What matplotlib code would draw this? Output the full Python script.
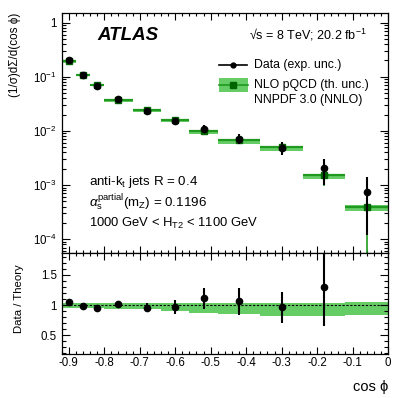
import numpy as np
import matplotlib
matplotlib.use("Agg")
import matplotlib.pyplot as plt
from matplotlib.ticker import FixedLocator, FixedFormatter, MultipleLocator, NullFormatter
from matplotlib.patches import Rectangle
from matplotlib.lines import Line2D

plt.rcParams['font.family'] = ['Liberation Sans', 'DejaVu Sans']
plt.rcParams['mathtext.fontset'] = 'custom'
plt.rcParams['mathtext.rm'] = 'Liberation Sans'
plt.rcParams['mathtext.it'] = 'Liberation Sans:italic'
plt.rcParams['axes.unicode_minus'] = False

# ---- data ----
bin_edges = [-0.92, -0.88, -0.84, -0.80, -0.72, -0.64, -0.56, -0.48, -0.36, -0.24, -0.12, 0.0]
data_vals = [0.200, 0.107, 0.068, 0.038, 0.0228, 0.0153, 0.0110, 0.0072, 0.0049, 0.00204, 0.00076]
data_rel_err = [0.02, 0.02, 0.03, 0.05, 0.075, 0.12, 0.16, 0.21, 0.27, 0.50, 0.84]
theory_vals = [0.191, 0.109, 0.0716, 0.0374, 0.0239, 0.0159, 0.0099, 0.0068, 0.0051, 0.00156, 0.00040]
theory_stat_err = [0, 0, 0, 0, 0, 0, 0, 0, 0, 0.00058, 0.00037]
band_lo = [0.945, 0.945, 0.945, 0.93, 0.93, 0.90, 0.87, 0.845, 0.82, 0.815, 0.83]
band_hi = [1.025, 1.025, 1.025, 1.025, 1.025, 1.025, 1.025, 1.025, 1.025, 1.03, 1.05]
ratio_shown = [True, True, True, True, True, True, True, True, True, True, False]
y_ticks = [1e-4, 1e-3, 1e-2, 1e-1, 1]
y_ticklabels = ['$10^{-4}$', '$10^{-3}$', '$10^{-2}$', '$10^{-1}$', '1']
x_ticks = [-0.9, -0.8, -0.7, -0.6, -0.5, -0.4, -0.3, -0.2, -0.1, 0.0]
x_ticklabels = ['-0.9', '-0.8', '-0.7', '-0.6', '-0.5', '-0.4', '-0.3', '-0.2', '-0.1', '0']
r_ticks = [0.5, 1.0, 1.5]
r_ticklabels = ['0.5', '1', '1.5']

edges = np.array(bin_edges)
lo_e = edges[:-1]
widths = np.diff(edges)
centers = lo_e + widths / 2
data = np.array(data_vals)
derr = data * np.array(data_rel_err)
th = np.array(theory_vals)
blo = np.array(band_lo)
bhi = np.array(band_hi)
ratio = data / th
rerr = derr / th
m = np.array(ratio_shown)

band_c = '#66cc66'
line_c = '#1f9a1f'
sq_c = '#006400'

W, H = 409, 398
fig = plt.figure(figsize=(W / 100, H / 100), dpi=100)
L, R = 61.7 / W, 388 / W
ax = fig.add_axes([L, 1 - 253.3 / H, R - L, (253.3 - 13) / H])
axr = fig.add_axes([L, 1 - 354.3 / H, R - L, (354.3 - 253.3) / H])

# ---- top panel ----
ax.set_yscale('log')
ax.bar(lo_e, th * (bhi - blo), bottom=th * blo, width=widths, align='edge',
       color=band_c, edgecolor='none', zorder=1)
ax.hlines(th, lo_e, edges[1:], color=line_c, lw=1.6, zorder=2)
ax.errorbar(centers, th, yerr=theory_stat_err, fmt='none', ecolor=line_c, elinewidth=1.2, zorder=2)
ax.plot(centers, th, 's', color=sq_c, ms=4.5, zorder=3)
ax.errorbar(centers, data, yerr=derr, fmt='o', color='black', ms=4.5, elinewidth=1.5,
            capsize=0, zorder=4)
ax.set_xlim(-0.92, 0)
ax.set_ylim(5.5e-5, 1.5)
ax.yaxis.set_major_locator(FixedLocator(y_ticks))
ax.yaxis.set_major_formatter(FixedFormatter(y_ticklabels))
ax.yaxis.set_minor_locator(matplotlib.ticker.LogLocator(base=10, subs=np.arange(2, 10)))
ax.yaxis.set_minor_formatter(NullFormatter())
ax.xaxis.set_major_locator(FixedLocator(x_ticks))
ax.xaxis.set_minor_locator(MultipleLocator(0.02))
ax.set_xticklabels([])
for a in (ax, axr):
    a.tick_params(which='both', direction='in', top=True, right=True, labelsize=8.3, width=0.8)
    a.tick_params(which='major', length=6)
    a.tick_params(which='minor', length=3)
    for s in a.spines.values():
        s.set_linewidth(0.9)
ax.tick_params(axis='x', which='major', length=5)
ax.tick_params(axis='x', which='minor', length=2.5)

ax.text(0.11, 0.908, 'ATLAS', transform=ax.transAxes, fontsize=13.5, fontweight='bold',
        fontstyle='italic', va='center', ha='left')
ax.text(0.933, 0.908, '\u221As = 8 TeV; 20.2 fb$^{-1}$', transform=ax.transAxes, fontsize=9,
        va='center', ha='right')

def fx(px):
    return (px - 61.7) / 326.3

def fy(py):
    return (253.3 - py) / 240.3

# legend
ax.add_line(Line2D([fx(219), fx(247)], [fy(65), fy(65)], transform=ax.transAxes, color='black', lw=1.2))
ax.add_line(Line2D([fx(233)], [fy(65)], transform=ax.transAxes, marker='o', color='black', ms=3.5))
ax.text(fx(254), fy(65), 'Data (exp. unc.)', transform=ax.transAxes, fontsize=8.8, va='center')
ax.add_patch(Rectangle((fx(219), fy(92)), fx(247.7) - fx(219), fy(78) - fy(92),
                       transform=ax.transAxes, color=band_c, ec='none'))
ax.add_line(Line2D([fx(219), fx(247.7)], [fy(85), fy(85)], transform=ax.transAxes, color=line_c, lw=1.2))
ax.add_line(Line2D([fx(233)], [fy(85)], transform=ax.transAxes, marker='s', color=sq_c, ms=4))
ax.text(fx(254), fy(85), 'NLO pQCD (th. unc.)', transform=ax.transAxes, fontsize=8.8, va='center')
ax.text(fx(254), fy(100.5), 'NNPDF 3.0 (NNLO)', transform=ax.transAxes, fontsize=8.8, va='center')

ax.text(fx(89), fy(182), 'anti-k$_\\mathrm{t}$ jets R = 0.4', transform=ax.transAxes, fontsize=9.6, va='center')
ax.text(fx(89), fy(203), '$\\alpha_\\mathrm{s}^\\mathrm{partial}$(m$_\\mathrm{Z}$) = 0.1196',
        transform=ax.transAxes, fontsize=9.6, va='center')
ax.text(fx(89), fy(223), '1000 GeV < H$_\\mathrm{T2}$ < 1100 GeV', transform=ax.transAxes,
        fontsize=9.4, va='center')

# ---- ratio panel ----
axr.bar(lo_e, bhi - blo, bottom=blo, width=widths, align='edge', color=band_c,
        edgecolor='none', zorder=1)
axr.axhline(1.0, color='black', lw=0.8, ls=(0, (2, 1.5)), zorder=2)
axr.errorbar(centers[m], ratio[m], yerr=rerr[m], fmt='o', color='black', ms=4.5, elinewidth=1.5,
             capsize=0, zorder=4)
axr.set_xlim(-0.92, 0)
axr.set_ylim(0.18, 1.86)
axr.yaxis.set_major_locator(FixedLocator(r_ticks))
axr.yaxis.set_major_formatter(FixedFormatter(r_ticklabels))
axr.yaxis.set_minor_locator(MultipleLocator(0.1))
axr.xaxis.set_major_locator(FixedLocator(x_ticks))
axr.xaxis.set_major_formatter(FixedFormatter(x_ticklabels))
axr.xaxis.set_minor_locator(MultipleLocator(0.02))
axr.tick_params(axis='x', which='major', length=5, pad=2)
axr.tick_params(axis='x', which='minor', length=2.5)

fig.text(15 / W, 1 - 13 / H, '(1/\u03c3)d\u03a3/d(cos \u03d5)', rotation=90, ha='center',
         va='top', fontsize=8.4)
fig.text(19 / W, 1 - 299 / H, 'Data / Theory', rotation=90, ha='center', va='center', fontsize=8.2)
fig.text(388 / W, 1 - 387 / H, 'cos \u03d5', ha='right', va='center', fontsize=10.5)

fig.savefig('out.png', dpi=100)
